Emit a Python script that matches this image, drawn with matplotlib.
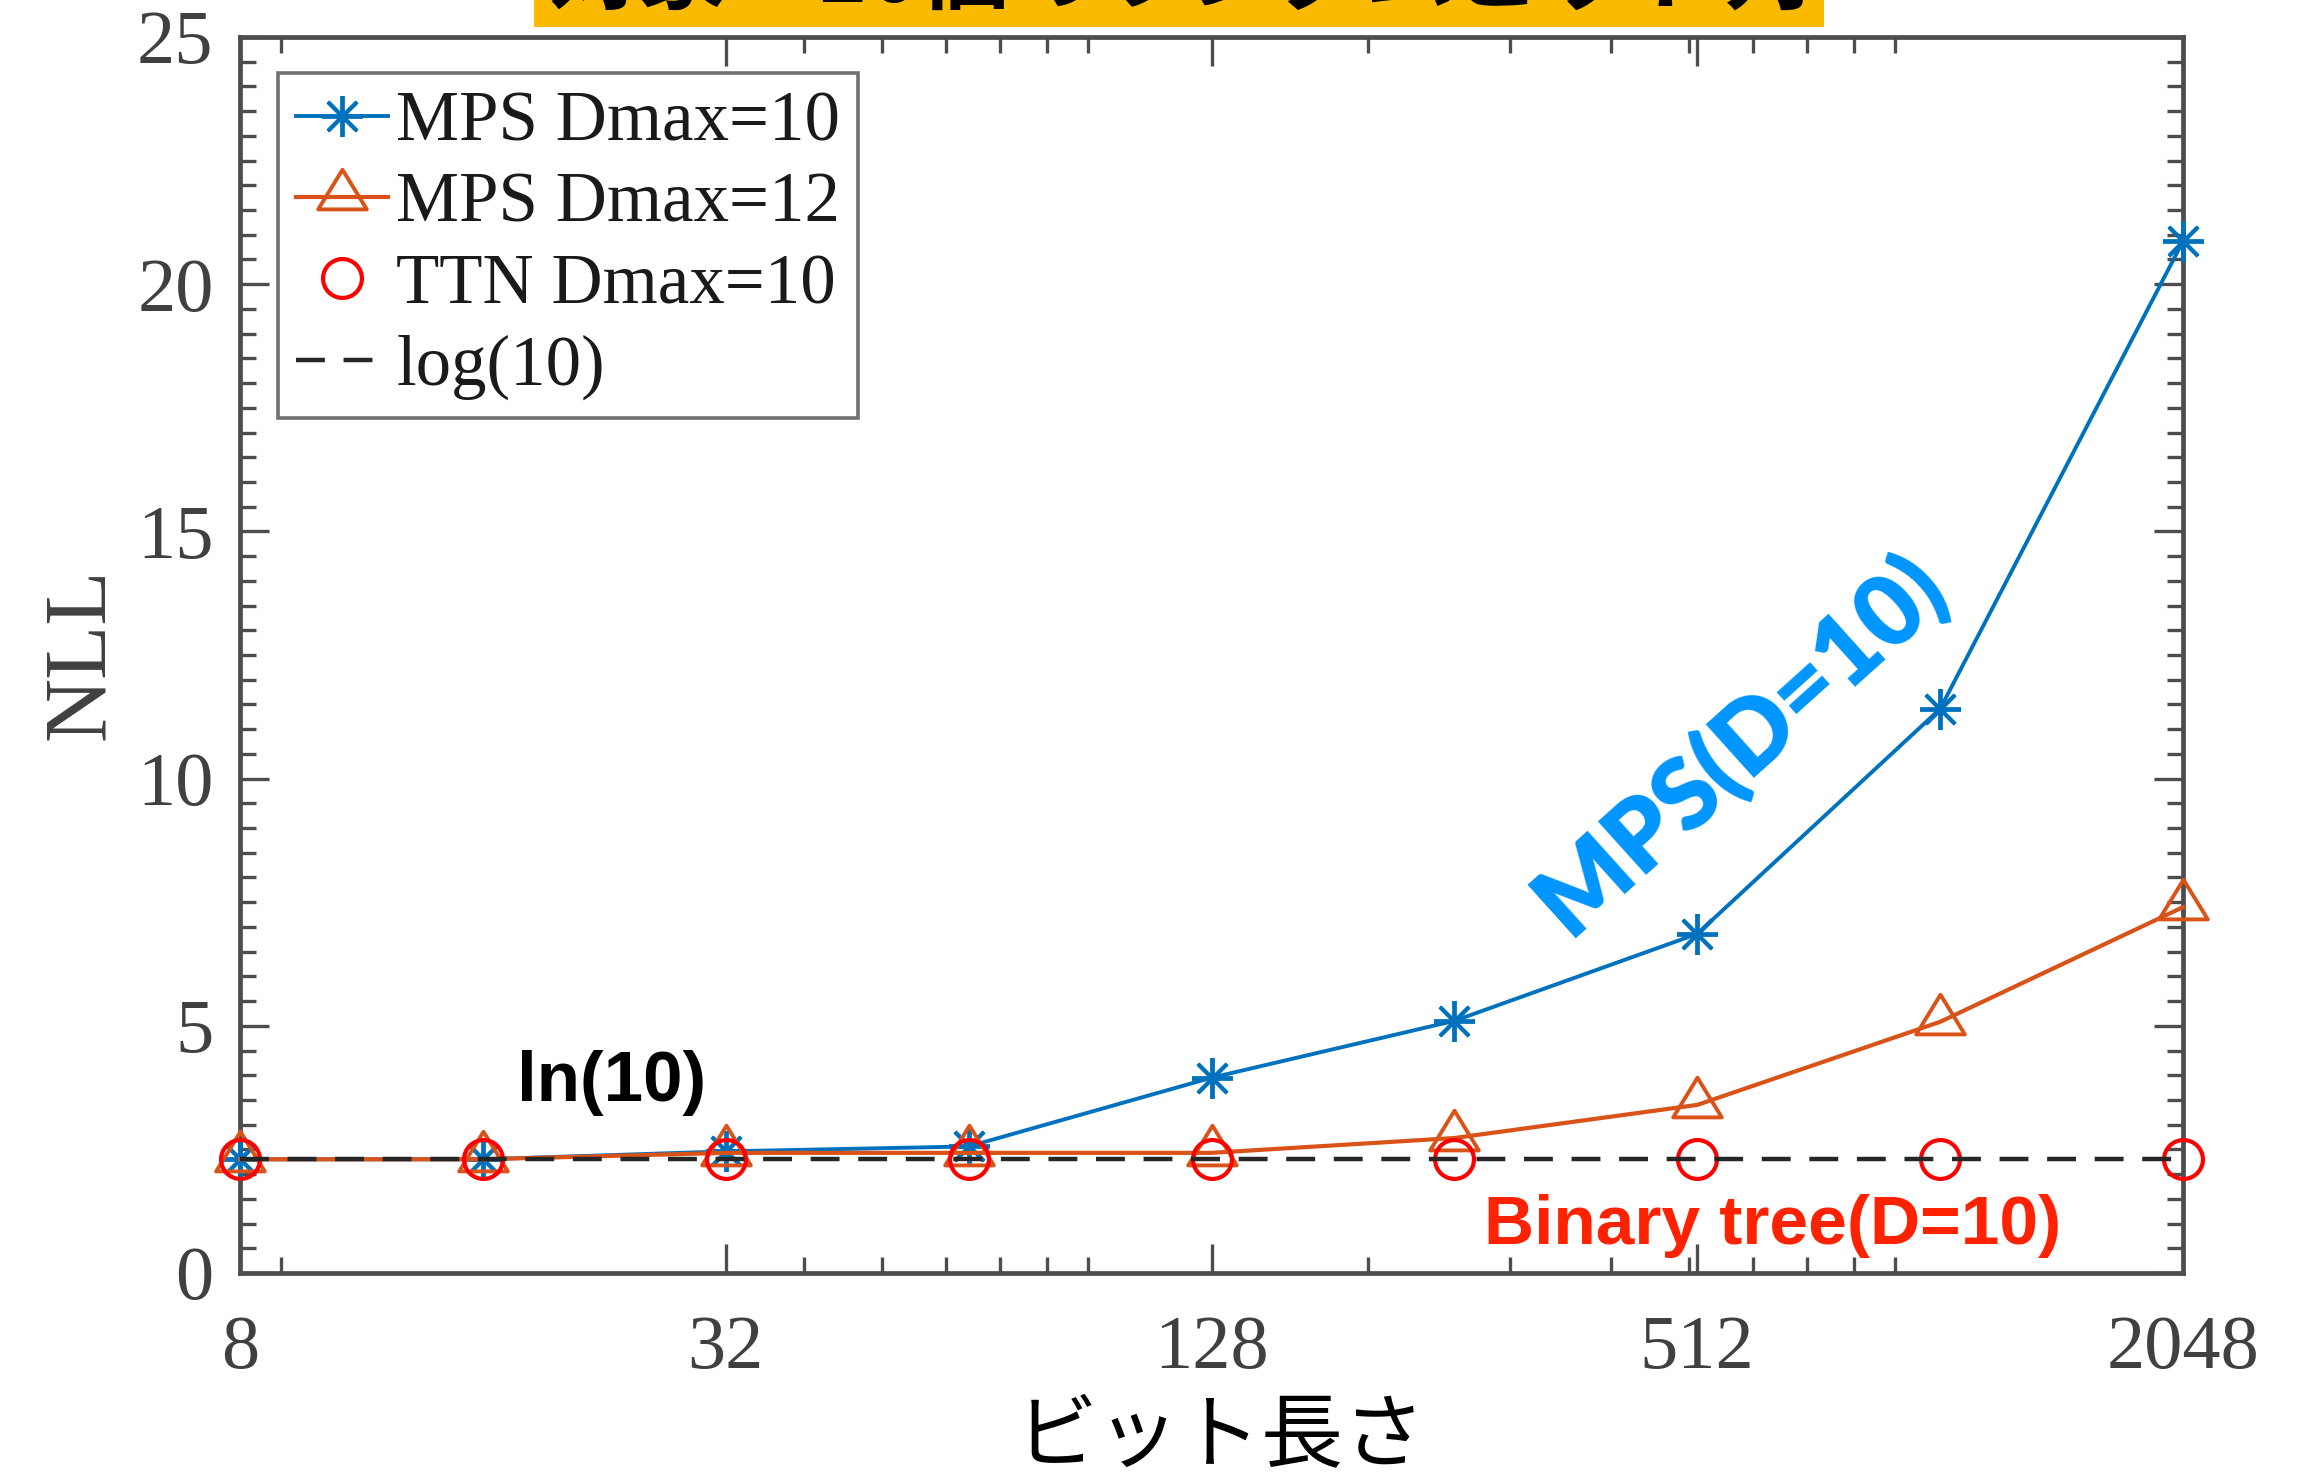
import numpy as np
import matplotlib
matplotlib.use('Agg')
import matplotlib.pyplot as plt
from matplotlib.path import Path
from matplotlib.patches import Rectangle
from matplotlib.ticker import FixedLocator, NullFormatter, MultipleLocator

# ---------------- data ----------------
bits = [8, 16, 32, 64, 128, 256, 512, 1024, 2048]
mps_d10 = [2.30, 2.30, 2.46, 2.56, 3.95, 5.10, 6.86, 11.41, 20.87]
mps_d12 = [2.30, 2.30, 2.43, 2.43, 2.43, 2.73, 3.40, 5.08, 7.40]
ttn_d10 = [2.30, 2.30, 2.30, 2.30, 2.30, 2.30, 2.30, 2.30, 2.30]
ln10 = np.log(10)

major_xticks = [8, 32, 128, 512, 2048]
minor_xticks = [9, 40, 50, 60, 70, 80, 90, 200, 300, 400, 500, 600, 700, 800, 900]
yticks = [0, 5, 10, 15, 20, 25]
labels = ['MPS Dmax=10', 'MPS Dmax=12', 'TTN Dmax=10', 'log(10)']
title_text = '対象：10個のランダムビット列'
xlabel_text = 'ビット長さ'
ylabel_text = 'NLL'
note_ln = 'ln(10)'
note_tree = 'Binary tree(D=10)'
note_mps = 'MPS(D=10)'

# ---------------- style ----------------
plt.rcParams['font.family'] = ['Liberation Serif', 'Noto Sans CJK JP', 'DejaVu Sans']
W, H = 2306, 1476
fig = plt.figure(figsize=(W / 100, H / 100), dpi=100)
fig.patch.set_facecolor('white')

ax_l, ax_r, ax_t, ax_b = 240, 2183, 37, 1273
ax = fig.add_axes([ax_l / W, 1 - ax_b / H, (ax_r - ax_l) / W, (ax_b - ax_t) / H])

C_BLUE = '#0072BD'
C_ORANGE = '#D95319'
C_RED = '#FF0000'
C_AX = '#4D4D4D'

tri = Path([(0, 28), (-24.5, -12), (24.5, -12), (0, 28)],
           [Path.MOVETO, Path.LINETO, Path.LINETO, Path.CLOSEPOLY])

ax.plot(bits, mps_d10, color=C_BLUE, lw=2.8, marker=(8, 2, 0), ms=29.5,
        mew=2.8, label=labels[0], zorder=3, clip_on=False)
ax.plot(bits, mps_d12, color=C_ORANGE, lw=3.0, marker=tri, ms=40,
        mfc='none', mec=C_ORANGE, mew=2.8, label=labels[1], zorder=3, clip_on=False)
ax.plot(bits, ttn_d10, ls='none', marker='o', ms=28, mfc='none',
        mec=C_RED, mew=3.0, label=labels[2], zorder=4, clip_on=False)
ax.plot([bits[0], bits[-1]], [ln10, ln10], ls=(0, (6.5, 4.2)), color='#262626',
        lw=3.2, label=labels[3], zorder=5, clip_on=False)

ax.set_xscale('log', base=2)
ax.set_xlim(bits[0], bits[-1])
ax.set_ylim(yticks[0], yticks[-1])
ax.xaxis.set_major_locator(FixedLocator(major_xticks))
ax.set_xticklabels([str(t) for t in major_xticks])
ax.xaxis.set_minor_locator(FixedLocator(minor_xticks))
ax.xaxis.set_minor_formatter(NullFormatter())
ax.set_yticks(yticks)
ax.set_yticklabels([str(t) for t in yticks])
ax.yaxis.set_minor_locator(MultipleLocator(0.5))

for s in ax.spines.values():
    s.set_color(C_AX)
    s.set_linewidth(3.4)
ax.tick_params(which='both', direction='in', top=True, right=True,
               color=C_AX, width=2.4, labelcolor='#404040')
ax.tick_params(which='major', length=21, labelsize=55)
ax.tick_params(axis='x', which='major', pad=30)
ax.tick_params(axis='y', which='major', pad=19)
ax.tick_params(which='minor', length=11.5)

leg = ax.legend(loc='upper left', bbox_to_anchor=((278 - ax_l) / (ax_r - ax_l), 1 - (73 - ax_t) / (ax_b - ax_t)),
                borderaxespad=0, fontsize=51, frameon=True, fancybox=False,
                handlelength=1.3, handletextpad=0.12, labelspacing=0.23,
                borderpad=0.25, edgecolor=C_AX)
leg.get_frame().set_linewidth(2.6)
for t in leg.get_texts():
    t.set_color('#1A1A1A')

# axis labels
fig.text(81 / W, 1 - 654 / H, ylabel_text, rotation=90, ha='center', va='center',
         fontsize=64, color='#404040')
fig.text(1221 / W, 1 - 1395 / H, xlabel_text, ha='center', va='top',
         fontsize=59, color='black', family=['Noto Sans CJK JP', 'DejaVu Sans'])

# title banner (cut off at the top of the picture, as in the original)
fig.patches.append(Rectangle((534 / W, 1 - 27 / H), (1824 - 534) / W, 40 / H,
                             transform=fig.transFigure, facecolor='#F9BA00',
                             edgecolor='none', zorder=0))
fig.text(1179 / W, 1 - 2 / H, title_text, ha='center', va='baseline', fontsize=64,
         weight='bold', color='black', family=['Noto Sans CJK JP', 'DejaVu Sans'])

# annotations
narrow = ['Liberation Sans Narrow', 'Liberation Sans', 'DejaVu Sans']
fig.text(612 / W, 1 - 1083 / H, note_ln, ha='center', va='center', fontsize=51,
         weight='bold', color='black', family=narrow)
fig.text(1773 / W, 1 - 1226 / H, note_tree, ha='center', va='center', fontsize=50,
         weight='bold', color='#FF2200', family=narrow)
fig.text(1739 / W, 1 - 743 / H, note_mps, ha='center', va='center', fontsize=71,
         weight='heavy', color='#0096FF', rotation=42, rotation_mode='anchor',
         family=['Lato', 'DejaVu Sans'])

fig.savefig('out.png', dpi=100)
